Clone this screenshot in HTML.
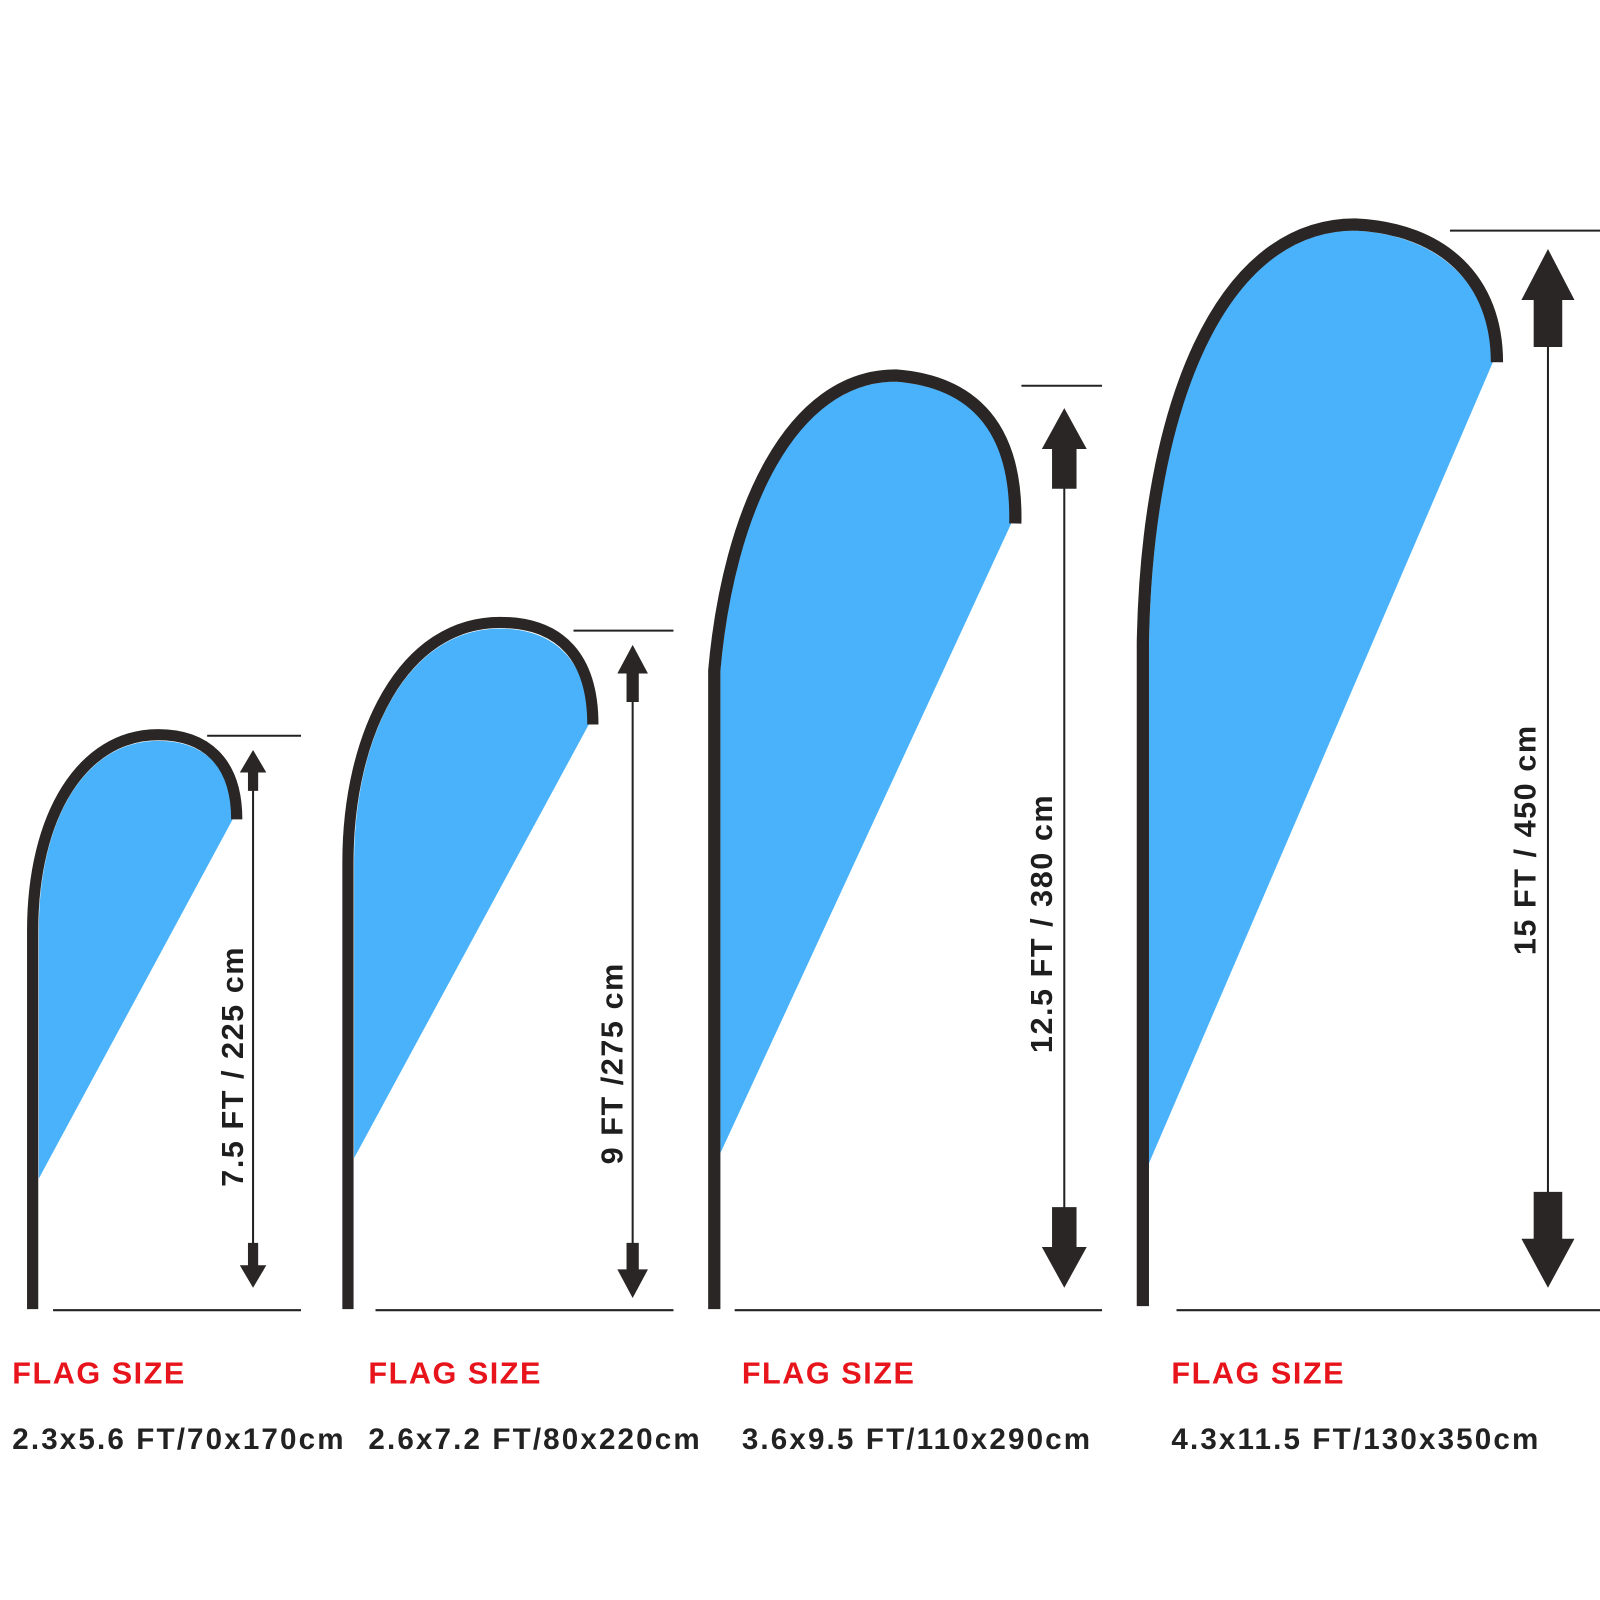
<!DOCTYPE html>
<html><head><meta charset="utf-8"><style>
html,body{margin:0;padding:0;background:#fff;}
svg{display:block}
text{font-family:"Liberation Sans",Arial,sans-serif;font-weight:bold;}
</style></head><body>
<svg width="1600" height="1600" viewBox="0 0 1568 1568" xmlns="http://www.w3.org/2000/svg">
<path d="M38,912 C38,800 85,726 155,726 C200,726 228,752 228,803 L38,1155 Z" fill="#4ab2fb"/>
<path d="M32,1283 L32,912 C32,800 80,720 155,720 C200,720 232,745 232,803" fill="none" stroke="#2a2625" stroke-width="11"/>
<path d="M347,845 C347,720 400,616 490,616 C545,616 577,650 577,710 L347,1135 Z" fill="#4ab2fb"/>
<path d="M341,1283 L341,845 C341,720 395,610 490,610 C550,610 581,645 581,710" fill="none" stroke="#2a2625" stroke-width="11"/>
<path d="M706,657 C720,500 780,374 878,374 C950,380 991,420 991,513 L706,1130 Z" fill="#4ab2fb"/>
<path d="M700,1283 L700,657 C714,500 775,368 878,368 C955,374 997,420 995,513" fill="none" stroke="#2a2625" stroke-width="12"/>
<path d="M1126,630 C1130,400 1200,226 1328,226 C1410,230 1463,280 1463,355 L1126,1140 Z" fill="#4ab2fb"/>
<path d="M1120,1280 L1120,630 C1124,400 1195,220 1328,220 C1415,224 1467,275 1467,355" fill="none" stroke="#2a2625" stroke-width="12"/>

<g stroke="#222" stroke-width="2" fill="none">
<line x1="203" y1="721" x2="295" y2="721"/><line x1="52" y1="1284" x2="295" y2="1284"/>
<line x1="248" y1="750" x2="248" y2="1250"/>
<line x1="562" y1="618" x2="660" y2="618"/><line x1="368" y1="1284" x2="660" y2="1284"/>
<line x1="620" y1="650" x2="620" y2="1250"/>
<line x1="1001" y1="378" x2="1080" y2="378"/><line x1="720" y1="1284" x2="1080" y2="1284"/>
<line x1="1043" y1="460" x2="1043" y2="1200"/>
<line x1="1421" y1="226" x2="1568" y2="226"/><line x1="1153" y1="1284" x2="1568" y2="1284"/>
<line x1="1517" y1="300" x2="1517" y2="1200"/>
</g>
<g fill="#2a2625">
<path d="M248,735 L261,757 L253,757 L253,775 L243,775 L243,757 L235,757 Z"/>
<path d="M248,1262 L261,1240 L253,1240 L253,1218 L243,1218 L243,1240 L235,1240 Z"/>
<path d="M620,632 L635,660 L626,660 L626,688 L614,688 L614,660 L605,660 Z"/>
<path d="M620,1272 L635,1244 L626,1244 L626,1218 L614,1218 L614,1244 L605,1244 Z"/>
<path d="M1043,400 L1065,440 L1055,440 L1055,479 L1031,479 L1031,440 L1021,440 Z"/>
<path d="M1043,1262 L1065,1222 L1055,1222 L1055,1183 L1031,1183 L1031,1222 L1021,1222 Z"/>
<path d="M1517,244 L1543,294 L1531,294 L1531,340 L1503,340 L1503,294 L1491,294 Z"/>
<path d="M1517,1262 L1543,1214 L1531,1214 L1531,1168 L1503,1168 L1503,1214 L1491,1214 Z"/>
</g>
<g fill="#1e1e1e" font-size="30" text-anchor="middle" letter-spacing="1.5">
<text transform="translate(238,1045) rotate(-90)">7.5 FT / 225 cm</text>
<text transform="translate(610,1042) rotate(-90)">9 FT /275 cm</text>
<text transform="translate(1031,905) rotate(-90)">12.5 FT / 380 cm</text>
<text transform="translate(1505,823) rotate(-90)">15 FT / 450 cm</text>
</g>
<g fill="#e8141c" font-size="30" letter-spacing="1.5">
<text x="12" y="1356">FLAG SIZE</text>
<text x="361" y="1356">FLAG SIZE</text>
<text x="727" y="1356">FLAG SIZE</text>
<text x="1148" y="1356">FLAG SIZE</text>
</g>
<g fill="#222" font-size="29" letter-spacing="2.1">
<text x="12" y="1420">2.3x5.6 FT/70x170cm</text>
<text x="361" y="1420">2.6x7.2 FT/80x220cm</text>
<text x="727" y="1420">3.6x9.5 FT/110x290cm</text>
<text x="1148" y="1420">4.3x11.5 FT/130x350cm</text>
</g>
</svg>
</body></html>
